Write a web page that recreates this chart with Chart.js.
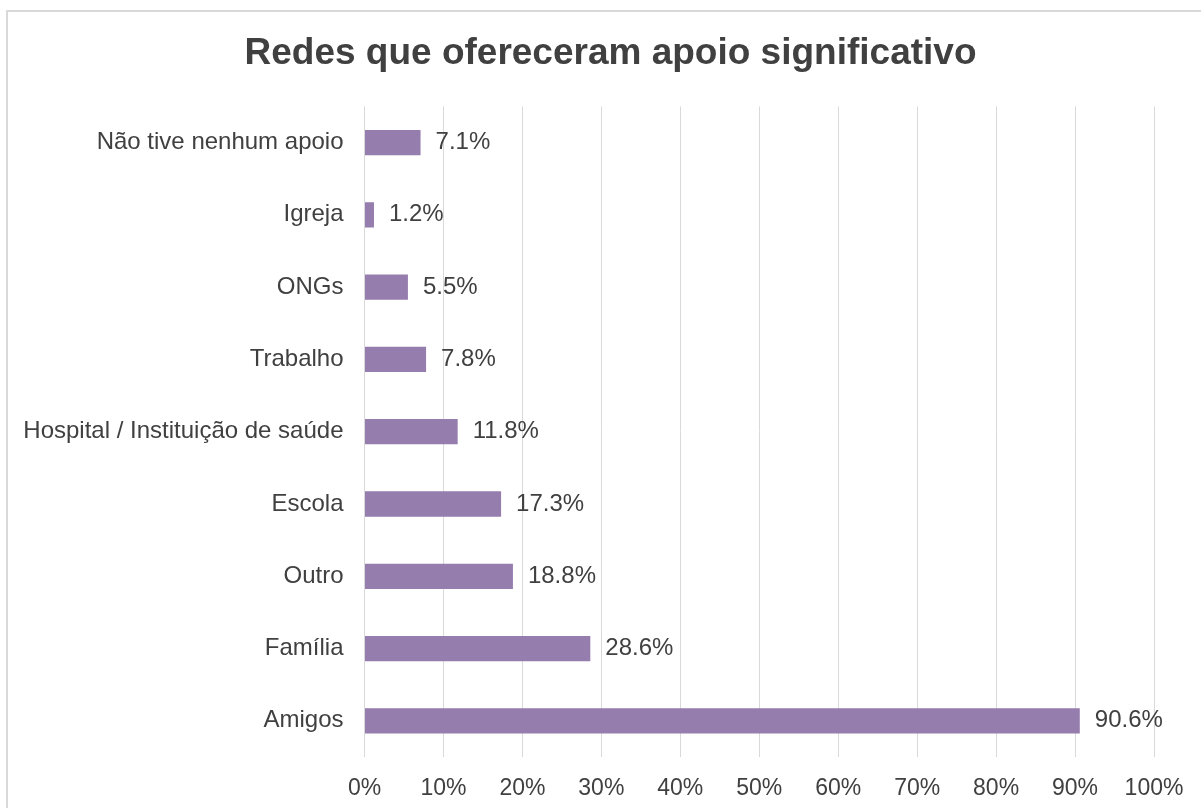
<!DOCTYPE html>
<html>
<head>
<meta charset="utf-8">
<title>Redes que ofereceram apoio significativo</title>
<script src="https://cdn.jsdelivr.net/npm/chart.js@4"></script>
<style>
  html, body { margin: 0; padding: 0; background: #fff; overflow: hidden; }
  .frame {
    position: absolute; left: 6px; top: 10px;
    width: 1240px; height: 840px;
    border: 2px solid #d9d9d9; box-sizing: border-box;
  }
  .chart-container {
    position: absolute; left: 0; top: 0;
    width: 1230px; height: 808px;
  }
</style>
</head>
<body>
<div class="frame"></div>
<div class="chart-container">
  <canvas id="redesChart"></canvas>
</div>
<script>
  // data, top to bottom
  const categories = [
    "Não tive nenhum apoio",
    "Igreja",
    "ONGs",
    "Trabalho",
    "Hospital / Instituição de saúde",
    "Escola",
    "Outro",
    "Família",
    "Amigos",
  ];
  const percentages = [7.1, 1.2, 5.5, 7.8, 11.8, 17.3, 18.8, 28.6, 90.6];
  const xTicks = [0, 10, 20, 30, 40, 50, 60, 70, 80, 90, 100];

  const textColor = "#404040";
  const fontFamily = "'Liberation Sans', Arial, sans-serif";

  // draws the value next to the end of every bar
  const valueLabels = {
    id: "valueLabels",
    afterDatasetsDraw(chart) {
      const ctx = chart.ctx;
      const meta = chart.getDatasetMeta(0);
      ctx.save();
      ctx.font = "24px " + fontFamily;
      ctx.fillStyle = textColor;
      ctx.textAlign = "left";
      ctx.textBaseline = "middle";
      meta.data.forEach((bar, i) => {
        ctx.fillText(percentages[i].toFixed(1) + "%", bar.x + 15, bar.y);
      });
      ctx.restore();
    },
  };

  const ctx = document.getElementById("redesChart").getContext("2d");

  new Chart(ctx, {
    type: "bar",
    data: {
      labels: categories,
      datasets: [
        {
          data: percentages,
          backgroundColor: "#957dad",
          borderWidth: 0,
          barPercentage: 0.35,
          categoryPercentage: 1,
        },
      ],
    },
    options: {
      indexAxis: "y",
      responsive: true,
      maintainAspectRatio: false,
      animation: false,
      layout: {
        padding: { left: 0, right: 9, top: 0, bottom: 0 },
      },
      plugins: {
        legend: { display: false },
        tooltip: { enabled: false },
        title: {
          display: true,
          text: "Redes que ofereceram apoio significativo",
          color: textColor,
          font: { family: fontFamily, size: 37, weight: "bold" },
          padding: { top: 32, bottom: 30 },
        },
      },
      scales: {
        x: {
          min: 0,
          max: 100,
          afterBuildTicks(scale) {
            scale.ticks = xTicks.map((v) => ({ value: v }));
          },
          afterFit(scale) {
            scale.height = 51;
          },
          grid: {
            color: "#d9d9d9",
            lineWidth: 1,
            drawTicks: false,
          },
          border: { display: false },
          ticks: {
            color: textColor,
            font: { family: fontFamily, size: 23 },
            padding: 18,
            callback: (v) => v + "%",
          },
        },
        y: {
          grid: { display: false, drawTicks: false },
          border: { display: false },
          afterFit(scale) {
            scale.width = 364.5;
          },
          ticks: {
            color: textColor,
            font: { family: fontFamily, size: 24 },
            padding: 21,
          },
        },
        // empty spacer on the right so the title sits where it does in the original
        spacer: {
          type: "category",
          position: "right",
          grid: { display: false, drawTicks: false },
          border: { display: false },
          ticks: { display: false },
          afterFit(scale) {
            scale.width = 67;
          },
        },
      },
    },
    plugins: [valueLabels],
  });
</script>
</body>
</html>
